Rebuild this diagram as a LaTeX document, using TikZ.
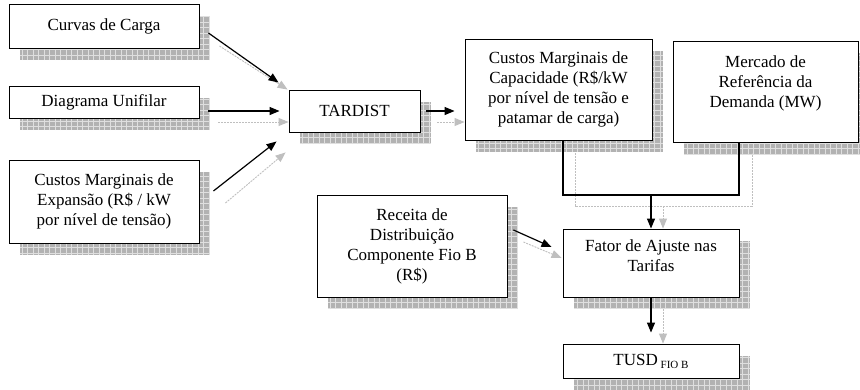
\documentclass[tikz,border=0pt]{standalone}
\usepackage{fontspec}
\setmainfont{Liberation Serif}
\usetikzlibrary{arrows.meta, backgrounds}

\newcommand{\boxshadow}[1]{%
    \fill[hatch] ([shift={(11,12)}]#1.north west) rectangle ([shift={(11,12)}]#1.south east);}

\begin{document}
\begin{tikzpicture}[
            x = 1pt, y = -1pt, % one unit per pixel, y going down
            > = {Triangle[length=10pt, width=8pt]}, % arrow head style
            semithick % line style
        ]

        \tikzstyle{block}=[
            draw = black,
            line width = 0.9pt,
            fill = white,
            align = center,
            inner sep = 2pt,
            font = \fontsize{17}{20}\selectfont
        ]
        \tikzstyle{link}=[->, draw = black, line width = 1.2pt]
        \tikzstyle{ghost}=[draw = gray!50, line width = 0.9pt, dash pattern = on 2pt off 1pt]
        \tikzstyle{hatch}=[
            fill = gray!60,
            path picture = {\draw[gray!25, line width = 0.6pt, step = 5.5pt]
                (path picture bounding box.south west) grid (path picture bounding box.north east);}
        ]

        \useasboundingbox (0,0) rectangle (860,389);

        % inputs on the left
        \node[block, minimum width = 190pt, minimum height = 44pt] (curvas) at (104,26) {Curvas de Carga};
        \node[block, minimum width = 190pt, minimum height = 32pt] (diagrama) at (104,102) {Diagrama Unifilar};
        \node[block, minimum width = 190pt, minimum height = 83pt] (expansao) at (104,201.5)
            {Custos Marginais de\\Expansão (R\$ / kW\\por nível de tensão)};

        \node[block, minimum width = 131pt, minimum height = 42pt] (tardist) at (354.5,111) {TARDIST};

        \node[block, minimum width = 187pt, minimum height = 101pt] (capacidade) at (558.5,89.5)
            {Custos Marginais de\\Capacidade (R\$/kW\\por nível de tensão e\\patamar de carga)};
        \node[block, minimum width = 185pt, minimum height = 101pt] (mercado) at (765.5,91.5)
            {Mercado de\\Referência da\\Demanda (MW)\\ \mbox{}};

        \node[block, minimum width = 190pt, minimum height = 102pt] (receita) at (412,246)
            {Receita de\\Distribuição\\Componente Fio B\\(R\$)};
        \node[block, minimum width = 176pt, minimum height = 68pt, text depth = 14pt] (fator) at (651,263)
            {Fator de Ajuste nas\\Tarifas};
        \node[block, minimum width = 176pt, minimum height = 34pt] (tusd) at (651,361)
            {TUSD\,\raisebox{-3pt}{\fontsize{11}{11}\selectfont FIO B}};

        \coordinate (join) at (651,195);
        \coordinate (joinshadow) at (663,206);

        % black connectors
        \draw[link] ([shift={(9,7)}]curvas.east) -- ([shift={(-10,-7)}]tardist.north west);
        \draw[link] ([shift={(9,9)}]diagrama.east) -- ([shift={(-9,0)}]tardist.west);
        \draw[link] ([shift={(14,-10.5)}]expansao.east) -- ([shift={(-12,9)}]tardist.south west);
        \draw[link] ([shift={(6,0)}]tardist.east) -- ([shift={(-10,21.5)}]capacidade.west);
        \draw[line width = 1.2pt] ([xshift=4.5]capacidade.south) |- (join) -| ([xshift=-26.5]mercado.south);
        \draw[link] (join) -- (fator.north);
        \draw[link] ([shift={(6,-16)}]receita.east) -- ([shift={(-11,-16)}]fator.west);
        \draw[link] (fator.south) -- ([shift={(0,-11)}]tusd.north);

        \begin{pgfonlayer}{background}
            \foreach \n in {curvas, diagrama, expansao, tardist, capacidade, mercado, receita, fator, tusd}
                \boxshadow{\n};

            % grey shadow connectors
            \draw[ghost, ->] ([shift={(20,20)}]curvas.east) -- ([shift={(-1,0)}]tardist.north west);
            \draw[ghost, ->] ([shift={(19,20)}]diagrama.east) -- ([shift={(0,11)}]tardist.west);
            \draw[ghost, ->] ([shift={(26,1.5)}]expansao.east) -- ([shift={(-3,20)}]tardist.south west);
            \draw[ghost, ->] ([shift={(17,11)}]tardist.east) -- ([shift={(0,32.5)}]capacidade.west);
            \draw[ghost] ([shift={(16.5,13)}]capacidade.south) |- (joinshadow) -| ([shift={(-13.5,11)}]mercado.south);
            \draw[ghost, ->] (joinshadow) -- ([xshift=12]fator.north);
            \draw[ghost, ->] ([shift={(16,-4)}]receita.east) -- ([shift={(-1,-5)}]fator.west);
            \draw[ghost, ->] ([shift={(12,12)}]fator.south) -- ([xshift=12]tusd.north);
        \end{pgfonlayer}

  \end{tikzpicture}
\end{document}
